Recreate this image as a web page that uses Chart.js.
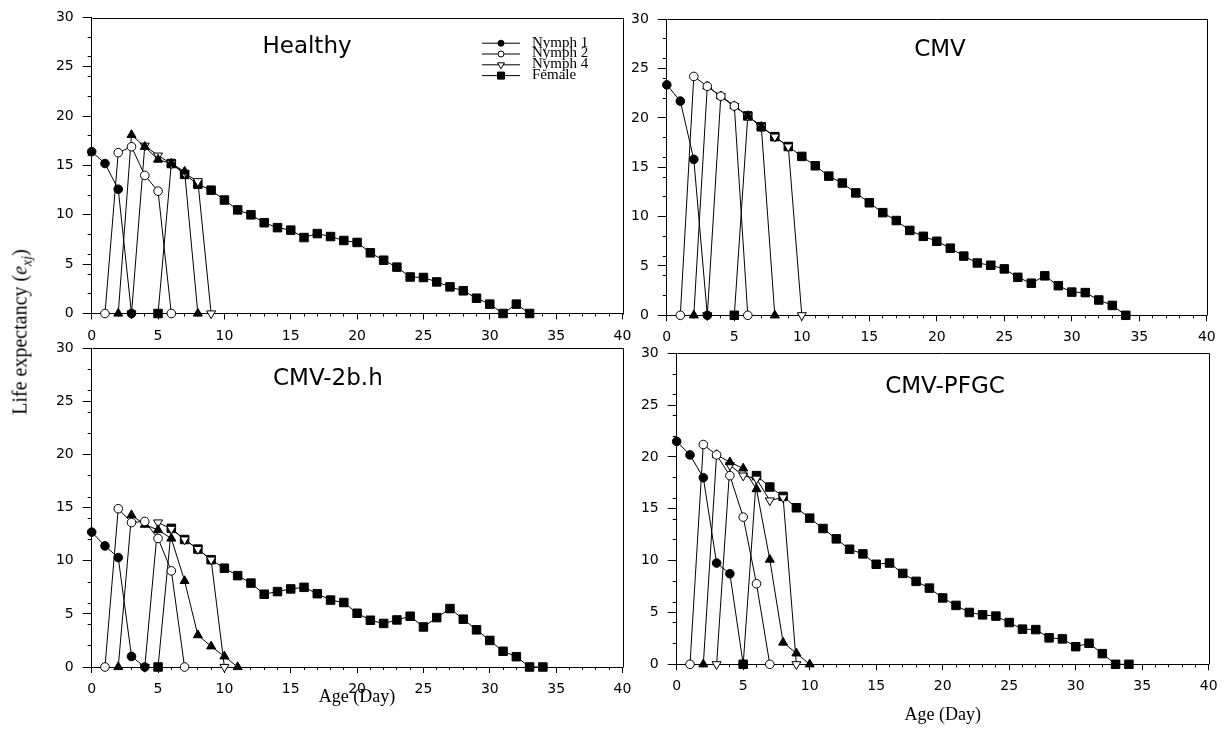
<!DOCTYPE html>
<html>
<head>
<meta charset="utf-8">
<script src="https://cdn.jsdelivr.net/npm/chart.js@4.4.0/dist/chart.umd.min.js"></script>
<style>
  body { margin: 0; background: #fff; }
  #wrap { position: relative; width: 1230px; height: 735px; overflow: hidden; background: #fff; }
  canvas { position: absolute; left: 0; top: 0; }
  #ytitle {
    position: absolute; left: 22px; top: 332px;
    transform: translate(-50%, -50%) rotate(-90deg);
    font: 20px "Liberation Serif", "Times New Roman", serif;
    white-space: nowrap; color: #000;
  }
  #ytitle sub { font-size: 14px; }
</style>
</head>
<body>
<div id="wrap">
  <canvas id="healthy" width="1230" height="735"></canvas>
  <canvas id="cmv" width="1230" height="735"></canvas>
  <canvas id="cmv2b" width="1230" height="735"></canvas>
  <canvas id="pfgc" width="1230" height="735"></canvas>
  <div id="ytitle">Life expectancy (<i>e</i><sub><i>xj</i></sub>)</div>
</div>
<script>
// stage order in every panel
var stageNames = ['Nymph 1', 'Nymph 2', 'Nymph 3', 'Nymph 4', 'Female'];
var legendStages = [0, 1, 3, 4]; // Nymph 3 is not in the original legend

// Healthy (first day of each curve in healthyStart)
var healthyStart = [0, 1, 2, 3, 5];
var healthyN1 = [16.4, 15.2, 12.6, 0];
var healthyN2 = [0, 16.3, 16.9, 14.0, 12.4, 0];
var healthyN3 = [0, 18.1, 16.9, 15.6, 15.2, 14.4, 0];
var healthyN4 = [0, 17.0, 16.0, 15.2, 14.2, 13.4, 0];
var healthyFemale = [0, 15.2, 14.1, 13.1, 12.5, 11.5, 10.5, 10.0, 9.2, 8.7, 8.45, 7.7, 8.1, 7.8, 7.4,
  7.2, 6.15, 5.4, 4.7, 3.7, 3.65, 3.2, 2.7, 2.3, 1.55, 0.95, 0, 0.95, 0];

// CMV
var cmvStart = [0, 1, 2, 3, 5];
var cmvN1 = [23.35, 21.7, 15.8, 0];
var cmvN2 = [0, 24.2, 23.2, 22.2, 21.2, 0];
var cmvN3 = [0, 23.2, 22.2, 21.2, 20.2, 19.1, 0];
var cmvN4 = [0, 22.2, 21.2, 20.2, 19.1, 18.1, 17.1, 0];
var cmvFemale = [0, 20.2, 19.1, 18.1, 17.1, 16.1, 15.15, 14.1, 13.4, 12.4, 11.4, 10.4, 9.6, 8.6, 8.0,
  7.5, 6.8, 6.0, 5.3, 5.07, 4.7, 3.85, 3.25, 4.0, 3.0, 2.35, 2.3, 1.55, 1.0, 0];

// CMV-2b.h
var cmv2bStart = [0, 1, 2, 4, 5];
var cmv2bN1 = [12.7, 11.4, 10.3, 1.0, 0];
var cmv2bN2 = [0, 14.9, 13.6, 13.7, 12.1, 9.05, 0];
var cmv2bN3 = [0, 14.3, 13.4, 12.9, 12.1, 8.1, 3.0, 1.95, 1.0, 0];
var cmv2bN4 = [0, 13.6, 13.0, 12.0, 11.1, 10.1, 0];
var cmv2bFemale = [0, 13.05, 12.0, 11.1, 10.1, 9.3, 8.6, 7.9, 6.85, 7.1, 7.35, 7.5, 6.9, 6.3, 6.07,
  5.06, 4.4, 4.1, 4.43, 4.78, 3.77, 4.65, 5.5, 4.5, 3.5, 2.5, 1.48, 0.97, 0, 0];

// CMV-PFGC
var pfgcStart = [0, 1, 2, 3, 5];
var pfgcN1 = [21.5, 20.2, 18.0, 9.77, 8.74, 0];
var pfgcN2 = [0, 21.2, 20.2, 18.2, 14.2, 7.77, 0];
var pfgcN3 = [0, 20.2, 19.5, 18.9, 16.9, 10.1, 2.1, 1.06, 0];
var pfgcN4 = [0, 19.2, 18.2, 17.9, 15.8, 16.1, 0];
var pfgcFemale = [0, 18.2, 17.1, 16.2, 15.1, 14.1, 13.1, 12.1, 11.1, 10.65, 9.65, 9.77, 8.77, 8.0, 7.35,
  6.4, 5.68, 5.0, 4.77, 4.65, 4.03, 3.39, 3.35, 2.55, 2.45, 1.7, 2.03, 1.03, 0, 0];

var xTicks = { min: 0, max: 40, major: 5 };
var yTicks = { min: 0, max: 30, major: 5 };

var markers = [
    { style: 'circle', radius: 4.3, fill: '#000', rotation: 0 },
    { style: 'circle', radius: 4.3, fill: '#fff', rotation: 0 },
    { style: 'triangle', radius: 5.2, fill: '#000', rotation: 0 },
    { style: 'triangle', radius: 5.2, fill: '#fff', rotation: 180 },
    { style: 'rect', radius: 6, fill: '#000', rotation: 0 }
];

var tickFont = { family: '"DejaVu Sans", Arial, sans-serif', size: 14 };
var serif = '"Liberation Serif", "Times New Roman", serif';

// top and right frame lines
var framePlugin = {
    id: 'frame',
    afterDraw: function (chart) {
        var a = chart.chartArea, ctx = chart.ctx;
        var l = Math.round(a.left) + 0.5, r = Math.round(a.right) + 0.5;
        var t = Math.round(a.top) + 0.5, b = Math.round(a.bottom) + 0.5;
        ctx.save();
        ctx.strokeStyle = '#000';
        ctx.lineWidth = 1;
        ctx.beginPath();
        ctx.moveTo(l, t);
        ctx.lineTo(r, t);
        ctx.lineTo(r, b);
        ctx.stroke();
        ctx.restore();
    }
};

// panel title and x axis title
var textPlugin = {
    id: 'panelText',
    afterDraw: function (chart, args, opts) {
        var ctx = chart.ctx, a = chart.chartArea;
        ctx.save();
        ctx.fillStyle = '#000';
        ctx.textBaseline = 'middle';
        if (opts.title) {
            ctx.font = '23px "DejaVu Sans", Arial, sans-serif';
            ctx.textAlign = opts.title.align || 'center';
            ctx.fillText(opts.title.text, opts.title.x, opts.title.y);
        }
        if (opts.xTitle) {
            ctx.font = '18px ' + serif;
            ctx.textAlign = 'center';
            ctx.fillText(opts.xTitle.text, (a.left + a.right) / 2, opts.xTitle.y);
        }
        ctx.restore();
    }
};

function drawMarker(ctx, m, x, y, r) {
    ctx.beginPath();
    if (m.style === 'circle') {
        ctx.arc(x, y, r, 0, Math.PI * 2);
    } else if (m.style === 'rect') {
        ctx.rect(x - r, y - r, 2 * r, 2 * r);
    } else {
        var dir = m.rotation ? -1 : 1;
        ctx.moveTo(x, y - dir * r);
        ctx.lineTo(x + r * 0.866, y + dir * r * 0.5);
        ctx.lineTo(x - r * 0.866, y + dir * r * 0.5);
        ctx.closePath();
    }
    ctx.fillStyle = m.fill;
    ctx.fill();
    ctx.stroke();
}

// legend: line with marker, then label
var stageLegend = {
    id: 'stageLegend',
    afterDraw: function (chart, args, opts) {
        if (!opts.show) return;
        var ctx = chart.ctx;
        ctx.save();
        ctx.strokeStyle = '#000';
        ctx.lineWidth = 1;
        ctx.font = '15px ' + serif;
        ctx.textBaseline = 'middle';
        ctx.textAlign = 'left';
        legendStages.forEach(function (s, i) {
            var y = opts.y + i * opts.row;
            ctx.beginPath();
            ctx.moveTo(opts.x0, y + 0.5);
            ctx.lineTo(opts.x1, y + 0.5);
            ctx.stroke();
            var m = markers[s];
            var r = m.style === 'rect' ? 3.5 : (m.style === 'circle' ? 3 : 4);
            drawMarker(ctx, m, (opts.x0 + opts.x1) / 2, y + 0.5, r);
            ctx.fillStyle = '#000';
            ctx.fillText(stageNames[s], opts.tx, y);
        });
        ctx.restore();
    }
};

function makePanel(id, area, series, starts, title, xTitle, legend) {
    var datasets = series.map(function (vals, i) {
        var m = markers[i];
        return {
            label: stageNames[i],
            data: vals.map(function (v, k) { return { x: starts[i] + k, y: v }; }),
            borderColor: '#000',
            borderWidth: 1,
            pointStyle: m.style,
            pointRadius: m.radius,
            pointHoverRadius: m.radius,
            pointRotation: m.rotation,
            pointBackgroundColor: m.fill,
            pointBorderColor: '#000',
            pointBorderWidth: 1,
            tension: 0,
            fill: false,
            clip: false
        };
    });

    var majorGrid = { drawOnChartArea: false, drawTicks: true, color: '#000', tickColor: '#000' };

    return new Chart(document.getElementById(id), {
        type: 'line',
        data: { datasets: datasets },
        plugins: [framePlugin, textPlugin, stageLegend],
        options: {
            responsive: false,
            animation: false,
            devicePixelRatio: 1,
            events: [],
            layout: {
                padding: {
                    left: area.left - 40,
                    top: area.top,
                    right: 1230 - area.right,
                    bottom: 735 - area.bottom - 30
                }
            },
            plugins: {
                legend: { display: false },
                tooltip: { enabled: false },
                panelText: { title: title, xTitle: xTitle },
                stageLegend: legend || { show: false }
            },
            scales: {
                x: {
                    type: 'linear', position: 'bottom', weight: 1,
                    min: xTicks.min, max: xTicks.max,
                    ticks: { stepSize: xTicks.major, color: '#000', font: tickFont, padding: 8, autoSkip: false, maxRotation: 0 },
                    grid: Object.assign({ tickLength: 6 }, majorGrid),
                    border: { display: true, color: '#000', width: 1 },
                    afterFit: function (s) { s.height = 30; }
                },
                xMinor: {
                    type: 'linear', position: 'bottom', weight: 0,
                    min: xTicks.min, max: xTicks.max,
                    ticks: { stepSize: 1, autoSkip: false, padding: 0, callback: function () { return ''; } },
                    grid: Object.assign({ tickLength: 3 }, majorGrid),
                    border: { display: false },
                    afterFit: function (s) { s.height = 0; }
                },
                y: {
                    type: 'linear', position: 'left', weight: 1,
                    min: yTicks.min, max: yTicks.max,
                    ticks: { stepSize: yTicks.major, color: '#000', font: tickFont, padding: 9 },
                    grid: Object.assign({ tickLength: 9 }, majorGrid),
                    border: { display: true, color: '#000', width: 1 },
                    afterFit: function (s) { s.width = 40; }
                },
                yMinor: {
                    type: 'linear', position: 'left', weight: 0,
                    min: yTicks.min, max: yTicks.max,
                    ticks: { stepSize: 1, padding: 0, callback: function () { return ''; } },
                    grid: Object.assign({ tickLength: 4 }, majorGrid),
                    border: { display: false },
                    afterFit: function (s) { s.width = 0; }
                }
            }
        }
    });
}

makePanel('healthy', { left: 91.7, right: 622.5, top: 17.5, bottom: 313.5 },
    [healthyN1, healthyN2, healthyN3, healthyN4, healthyFemale], healthyStart,
    { text: 'Healthy', x: 307, y: 47 }, null,
    { show: true, x0: 482, x1: 520, tx: 532, y: 42.7, row: 10.8 });

makePanel('cmv', { left: 666.8, right: 1206.8, top: 19.2, bottom: 315.3 },
    [cmvN1, cmvN2, cmvN3, cmvN4, cmvFemale], cmvStart,
    { text: 'CMV', x: 940, y: 50 }, null, null);

makePanel('cmv2b', { left: 91.7, right: 622.5, top: 348.3, bottom: 667 },
    [cmv2bN1, cmv2bN2, cmv2bN3, cmv2bN4, cmv2bFemale], cmv2bStart,
    { text: 'CMV-2b.h', x: 273, y: 379, align: 'left' }, { text: 'Age (Day)', y: 697 }, null);

makePanel('pfgc', { left: 676.7, right: 1208.7, top: 353.3, bottom: 664.3 },
    [pfgcN1, pfgcN2, pfgcN3, pfgcN4, pfgcFemale], pfgcStart,
    { text: 'CMV-PFGC', x: 945, y: 387 }, { text: 'Age (Day)', y: 715 }, null);
</script>
</body>
</html>
